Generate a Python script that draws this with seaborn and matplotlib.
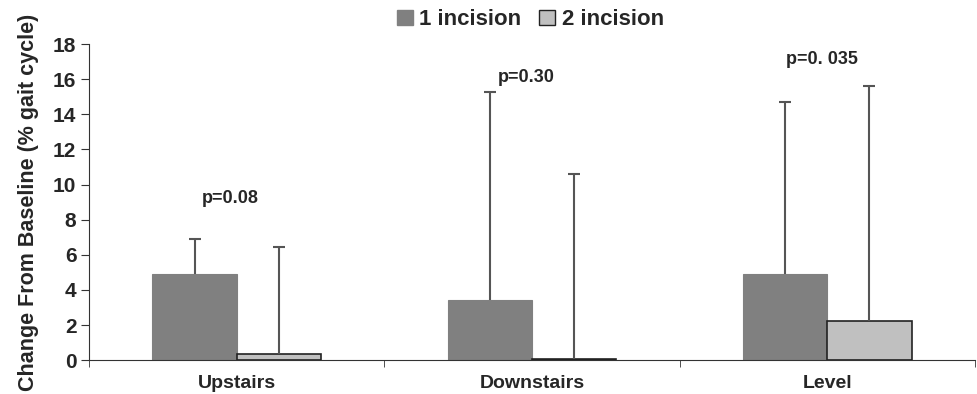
import pandas as pd
import matplotlib
matplotlib.use('Agg')
import matplotlib.pyplot as plt
import seaborn as sns
from matplotlib.patches import Patch

# Data
conditions = ['Upstairs', 'Downstairs', 'Level']
groups = ['1 incision', '2 incision']
mean_1 = [4.9, 3.4, 4.9]
mean_2 = [0.35, 0.05, 2.2]
err_1 = [2.0, 11.9, 9.8]
err_2 = [6.1, 10.55, 13.4]
p_labels = ['p=0.08', 'p=0.30', 'p=0. 035']
p_heights = [9.2, 16.1, 17.1]

df = pd.DataFrame({
    'Condition': conditions * 2,
    'Group': [groups[0]] * 3 + [groups[1]] * 3,
    'Change': mean_1 + mean_2,
})

sns.set_style('ticks')
plt.rcParams['font.family'] = ['Liberation Sans', 'DejaVu Sans']
plt.rcParams['font.weight'] = 'bold'

fig = plt.figure(figsize=(9.77, 3.94), dpi=100)
ax = fig.add_axes([0.091, 0.086, 0.907, 0.802])

palette = {groups[0]: '#808080', groups[1]: '#c0c0c0'}
sns.barplot(data=df, x='Condition', y='Change', hue='Group', order=conditions,
            hue_order=groups, palette=palette, width=0.57, errorbar=None,
            saturation=1, ax=ax, legend=False)

# style bars and add upper-only error bars
bar_containers = list(ax.containers)
for i, cont in enumerate(bar_containers):
    errs = err_1 if i == 0 else err_2
    for bar, e in zip(cont.patches, errs):
        if i == 0:
            bar.set_edgecolor('#808080')
            bar.set_linewidth(0.8)
        else:
            bar.set_edgecolor('#222222')
            bar.set_linewidth(1.2)
        x = bar.get_x() + bar.get_width() / 2
        h = bar.get_height()
        _, caps, _ = ax.errorbar(x, h, yerr=[[0], [e]], fmt='none', ecolor='#555555',
                                 elinewidth=1.5, capsize=4, capthick=1.5)
        caps[0].set_visible(False)

for i, (lab, h) in enumerate(zip(p_labels, p_heights)):
    ax.text(i - 0.02, h, lab, ha='center', va='center', fontsize=13, fontweight='bold')

ax.set_ylim(0, 18)
ax.set_yticks(range(0, 19, 2))
ax.set_xlim(-0.5, 2.5)
ax.set_xticks([-0.5, 0.5, 1.5, 2.5], minor=True)
ax.tick_params(axis='x', which='major', length=0, labelsize=14, pad=11)
ax.tick_params(axis='x', which='minor', length=5, direction='out', color='#333333')
ax.tick_params(axis='y', labelsize=15, length=6, color='#333333', pad=3)
for lab in ax.get_xticklabels() + ax.get_yticklabels():
    lab.set_fontweight('bold')
ax.set_xlabel('')
ax.set_ylabel('Change From Baseline (% gait cycle)', fontsize=15.5, fontweight='bold', labelpad=10)
sns.despine(ax=ax)
for s in ['left', 'bottom']:
    ax.spines[s].set_color('#333333')

handles = [Patch(facecolor='#808080', edgecolor='#808080'),
           Patch(facecolor='#c0c0c0', edgecolor='#222222')]
fig.legend(handles, groups, loc='upper center', bbox_to_anchor=(0.543, 1.027), ncol=2,
           frameon=False, prop={'weight': 'bold', 'size': 16},
           handlelength=0.7, handleheight=0.7, handletextpad=0.3, columnspacing=0.8)

fig.savefig('out.png', dpi=100)
